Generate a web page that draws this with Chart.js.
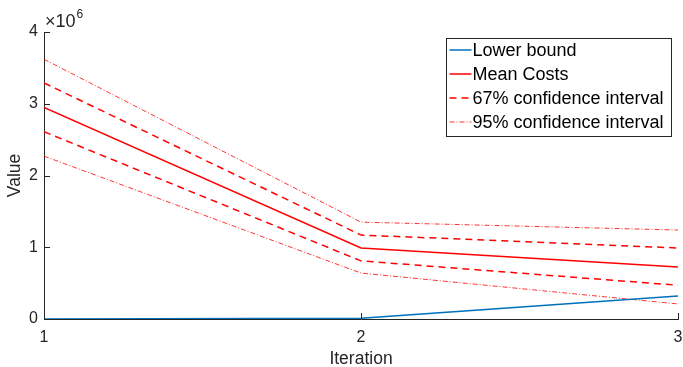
<!DOCTYPE html>
<html>
<head>
<meta charset="utf-8">
<script src="https://cdn.jsdelivr.net/npm/chart.js@4/dist/chart.umd.min.js"></script>
<style>
  html, body { margin: 0; padding: 0; background: #fff; }
  #wrap { width: 683px; height: 367px; }
</style>
</head>
<body>
<div id="wrap"><canvas id="costChart" width="683" height="367"></canvas></div>
<script>
const iterations = [1, 2, 3];
const lowerBound = [0, 0.01e6, 0.32e6];
const meanCosts = [2.95e6, 0.99e6, 0.725e6];
const ci67Upper = [3.29e6, 1.17e6, 0.99e6];
const ci67Lower = [2.61e6, 0.81e6, 0.47e6];
const ci95Upper = [3.62e6, 1.35e6, 1.24e6];
const ci95Lower = [2.27e6, 0.64e6, 0.21e6];
const yTicks = [0, 1e6, 2e6, 3e6, 4e6];

const FONT = "'Liberation Sans', Arial, Helvetica, sans-serif";
const AXIS = "#262626";

function pts(vals) {
  return vals.map(function (v, i) { return { x: iterations[i], y: v }; });
}

function line(label, vals, color, width, dash, showLegend) {
  return {
    label: label,
    data: pts(vals),
    borderColor: color,
    borderWidth: width,
    borderDash: dash,
    pointRadius: 0,
    fill: false,
    tension: 0,
    inLegend: showLegend
  };
}

const datasets = [
  line("Lower bound", lowerBound, "#0072BD", 1.5, [], true),
  line("Mean Costs", meanCosts, "#ff0000", 1.5, [], true),
  line("67% confidence interval", ci67Upper, "#ff0000", 1.5, [7, 5], true),
  line("67% lower", ci67Lower, "#ff0000", 1.5, [7, 5], false),
  line("95% confidence interval", ci95Upper, "#ff0000", 0.8, [5, 2, 1, 2], true),
  line("95% lower", ci95Lower, "#ff0000", 0.8, [5, 2, 1, 2], false)
];

const matlabDecor = {
  id: "matlabDecor",
  afterDraw: function (chart) {
    const ctx = chart.ctx;
    const xs = chart.scales.x, ys = chart.scales.y;
    const a = chart.chartArea;
    ctx.save();
    ctx.strokeStyle = AXIS;
    ctx.lineWidth = 1;
    // inward ticks
    iterations.forEach(function (v) {
      const px = Math.round(xs.getPixelForValue(v)) + 0.5;
      ctx.beginPath();
      ctx.moveTo(px, a.bottom);
      ctx.lineTo(px, a.bottom - 6);
      ctx.stroke();
    });
    yTicks.forEach(function (v) {
      const py = Math.round(ys.getPixelForValue(v)) + 0.5;
      ctx.beginPath();
      ctx.moveTo(a.left, py);
      ctx.lineTo(a.left + 6, py);
      ctx.stroke();
    });
    // exponent label
    ctx.fillStyle = AXIS;
    ctx.textBaseline = "alphabetic";
    ctx.textAlign = "left";
    ctx.font = "18px " + FONT;
    ctx.fillText("\u00d710", 45, 27);
    const w = ctx.measureText("\u00d710").width;
    ctx.font = "12px " + FONT;
    ctx.fillText("6", 45 + w + 1, 18);

    // legend
    const items = chart.data.datasets.filter(function (d) { return d.inLegend; });
    const lx = 446.5, ly = 38.5, lw = 225, lh = 98;
    ctx.fillStyle = "#fff";
    ctx.fillRect(lx, ly, lw, lh);
    ctx.strokeStyle = AXIS;
    ctx.lineWidth = 1;
    ctx.strokeRect(lx, ly, lw, lh);
    ctx.font = "18px " + FONT;
    ctx.textBaseline = "middle";
    items.forEach(function (d, i) {
      const cy = ly + 11.5 + i * 24;
      ctx.strokeStyle = d.borderColor;
      ctx.lineWidth = d.borderWidth;
      ctx.setLineDash(d.borderDash);
      ctx.beginPath();
      ctx.moveTo(lx + 3, cy);
      ctx.lineTo(lx + 25, cy);
      ctx.stroke();
      ctx.setLineDash([]);
      ctx.fillStyle = "#000";
      ctx.fillText(d.label, lx + 26, cy + 1);
    });
    ctx.restore();
  }
};

new Chart(document.getElementById("costChart").getContext("2d"), {
  type: "line",
  data: { datasets: datasets },
  options: {
    responsive: false,
    animation: false,
    layout: { padding: { top: 32, right: 5, left: 0, bottom: 0 } },
    plugins: { legend: { display: false }, tooltip: { enabled: false } },
    scales: {
      x: {
        type: "linear",
        min: 1,
        max: 3,
        afterFit: function (s) { s.height = 48; s.paddingLeft = 0; s.paddingRight = 0; },
        ticks: { stepSize: 1, color: AXIS, font: { family: FONT, size: 16 }, padding: 9 },
        grid: { display: false, drawTicks: false },
        border: { display: true, color: AXIS, width: 1 },
        title: { display: true, text: "Iteration", color: AXIS, font: { family: FONT, size: 17.5 }, padding: { top: 0, bottom: -3 } }
      },
      y: {
        min: 0,
        max: 4e6,
        afterFit: function (s) { s.width = 44; },
        afterBuildTicks: function (s) { s.ticks = yTicks.map(function (v) { return { value: v }; }); },
        ticks: {
          color: AXIS,
          font: { family: FONT, size: 16 },
          padding: 6,
          callback: function (v) { return v / 1e6; }
        },
        grid: { display: false, drawTicks: false },
        border: { display: true, color: AXIS, width: 1 },
        title: { display: true, text: "Value", color: AXIS, font: { family: FONT, size: 17.5 }, padding: { top: 5, bottom: 0 } }
      }
    }
  },
  plugins: [matlabDecor]
});
</script>
</body>
</html>
